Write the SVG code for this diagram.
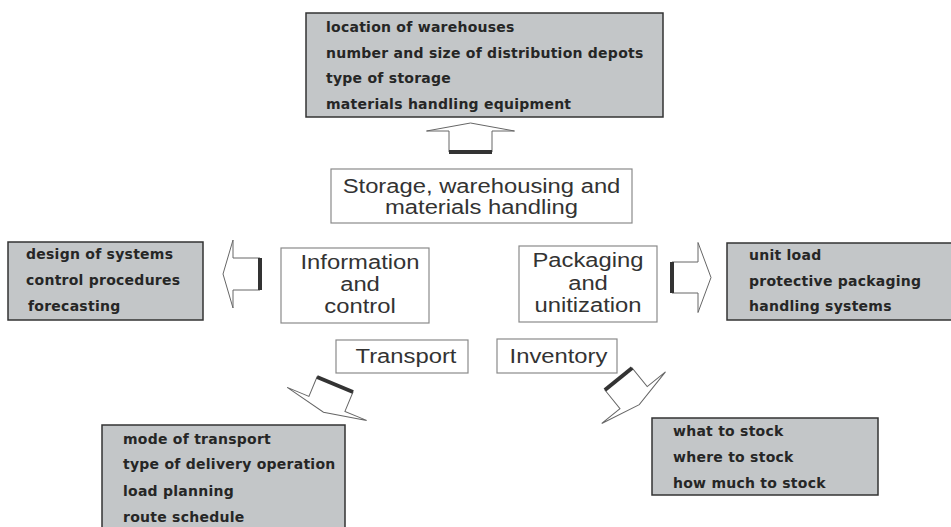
<svg xmlns="http://www.w3.org/2000/svg" width="951" height="527" viewBox="0 0 951 527">
  <style>
    .gbox { fill: #c3c6c8; stroke: #333; stroke-width: 1.5; }
    .wbox { fill: #fff; stroke: #8a8a8a; stroke-width: 1.2; }
    .gt { font-family: "DejaVu Sans", "Liberation Sans", sans-serif; font-weight: bold; font-size: 14px; letter-spacing: 0.25px; fill: #262626; }
    .nt { font-family: "Liberation Sans", Arial, sans-serif; font-size: 20px; fill: #333; text-anchor: middle; }
    .arr { fill: #fff; stroke: #666; stroke-width: 1; stroke-linejoin: miter; }
    .tail { stroke: #333; stroke-width: 4; fill: none; }
  </style>
  <rect width="951" height="527" fill="#fff"/>

  <g id="storage-details">
    <rect class="gbox" x="306" y="13" width="357" height="104"/>
    <text class="gt" x="326" y="32">location of warehouses</text>
    <text class="gt" x="326" y="57.5">number and size of distribution depots</text>
    <text class="gt" x="326" y="83">type of storage</text>
    <text class="gt" x="326" y="108.5">materials handling equipment</text>
  </g>

  <g id="storage">
    <rect class="wbox" x="331" y="169" width="301" height="54"/>
    <g transform="translate(481.5,0) scale(1.19,1)">
      <text class="nt" x="0" y="193">Storage, warehousing and</text>
      <text class="nt" x="0" y="214">materials handling</text>
    </g>
  </g>

  <g id="information">
    <rect class="wbox" x="281" y="248" width="148" height="75"/>
    <g transform="translate(360,0) scale(1.19,1)">
      <text class="nt" x="0" y="269">Information</text>
      <text class="nt" x="0" y="291">and</text>
      <text class="nt" x="0" y="313">control</text>
    </g>
  </g>

  <g id="packaging">
    <rect class="wbox" x="519" y="246" width="138" height="76"/>
    <g transform="translate(588,0) scale(1.19,1)">
      <text class="nt" x="0" y="267">Packaging</text>
      <text class="nt" x="0" y="290">and</text>
      <text class="nt" x="0" y="312">unitization</text>
    </g>
  </g>

  <g id="transport">
    <rect class="wbox" x="336" y="340" width="132" height="33"/>
    <g transform="translate(406,0) scale(1.19,1)">
      <text class="nt" x="0" y="363">Transport</text>
    </g>
  </g>

  <g id="inventory">
    <rect class="wbox" x="497" y="339" width="120" height="34"/>
    <g transform="translate(558.5,0) scale(1.19,1)">
      <text class="nt" x="0" y="363">Inventory</text>
    </g>
  </g>

  <g id="information-details">
    <rect class="gbox" x="8" y="242" width="195" height="78"/>
    <text class="gt" x="26" y="259">design of systems</text>
    <text class="gt" x="26" y="285">control procedures</text>
    <text class="gt" x="28" y="311">forecasting</text>
  </g>

  <g id="packaging-details">
    <rect class="gbox" x="727" y="243" width="230" height="77"/>
    <text class="gt" x="749" y="260">unit load</text>
    <text class="gt" x="749" y="286">protective packaging</text>
    <text class="gt" x="749" y="311">handling systems</text>
  </g>

  <g id="transport-details">
    <rect class="gbox" x="102" y="425" width="243" height="108"/>
    <text class="gt" x="123" y="444">mode of transport</text>
    <text class="gt" x="123" y="469">type of delivery operation</text>
    <text class="gt" x="123" y="496">load planning</text>
    <text class="gt" x="123" y="522">route schedule</text>
  </g>

  <g id="inventory-details">
    <rect class="gbox" x="652" y="418" width="226" height="77"/>
    <text class="gt" x="673" y="436">what to stock</text>
    <text class="gt" x="673" y="462">where to stock</text>
    <text class="gt" x="673" y="488">how much to stock</text>
  </g>

  <g id="connectors">
    <g transform="translate(470.5,152) rotate(180)">
      <path class="arr" d="M-21.5,0 L-21.5,21 L-44,21 L0,29 L44,21 L21.5,21 L21.5,0 Z"/>
      <line class="tail" x1="-21.5" y1="0" x2="21.5" y2="0"/>
    </g>
    <g transform="translate(260,274) rotate(90)">
      <path class="arr" d="M-16,0 L-16,27 L-34,27 L0,37 L34,27 L16,27 L16,0 Z"/>
      <line class="tail" x1="-16" y1="0" x2="16" y2="0"/>
    </g>
    <g transform="translate(672,277.5) rotate(-90)">
      <path class="arr" d="M-15.5,0 L-15.5,26 L-35,26 L0,39 L35,26 L15.5,26 L15.5,0 Z"/>
      <line class="tail" x1="-15.5" y1="0" x2="15.5" y2="0"/>
    </g>
    <g transform="translate(335,384.5) rotate(22.6)">
      <path class="arr" d="M-19.5,0 L-19.5,21 L-43,21 L0,30 L43,21 L19.5,21 L19.5,0 Z"/>
      <line class="tail" x1="-19.5" y1="0" x2="19.5" y2="0"/>
    </g>
    <g transform="translate(618.5,379) rotate(-39)">
      <path class="arr" d="M-17.5,0 L-17.5,24 L-41,24 L0,33 L41,24 L17.5,24 L17.5,0 Z"/>
      <line class="tail" x1="-17.5" y1="0" x2="17.5" y2="0"/>
    </g>
  </g>
</svg>
